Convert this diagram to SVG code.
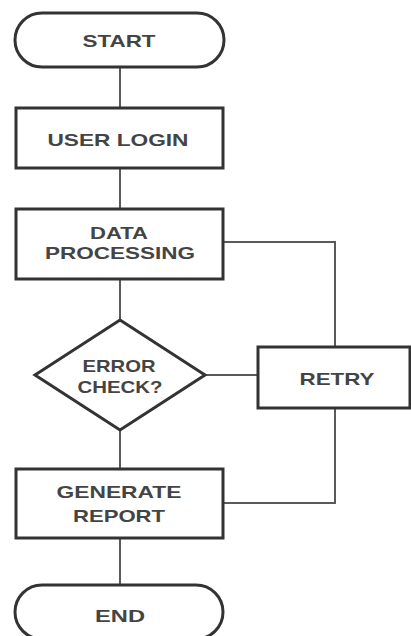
<svg xmlns="http://www.w3.org/2000/svg" width="411" height="636" viewBox="0 0 411 636">
<style>
.shape{fill:#fff;stroke:#333;stroke-width:3}
.conn{fill:none;stroke:#5a5a5a;stroke-width:2}
.lbl{font-family:"Liberation Sans",Arial,sans-serif;font-weight:bold;font-size:17px;fill:#444;text-anchor:middle}
</style>
<rect width="411" height="636" fill="#fff"/>
<g id="connectors">
<path class="conn" d="M120 67V108"/>
<path class="conn" d="M120 168V209"/>
<path class="conn" d="M120 279V320"/>
<path class="conn" d="M223 242H335V347"/>
<path class="conn" d="M205 375H258"/>
<path class="conn" d="M335 409V503H223"/>
<path class="conn" d="M120 430V469"/>
<path class="conn" d="M120 538V585"/>
</g>
<g id="start">
<rect class="shape" x="15" y="13" width="209" height="54" rx="27"/>
<text class="lbl" x="119" y="47" textLength="73" lengthAdjust="spacingAndGlyphs">START</text>
</g>
<g id="user-login">
<rect class="shape" x="16" y="108" width="207" height="60"/>
<text class="lbl" x="118" y="146" textLength="141" lengthAdjust="spacingAndGlyphs">USER LOGIN</text>
</g>
<g id="data-processing">
<rect class="shape" x="16" y="209" width="207" height="70"/>
<text class="lbl" x="119" y="239" textLength="58" lengthAdjust="spacingAndGlyphs">DATA</text>
<text class="lbl" x="120" y="259" textLength="150" lengthAdjust="spacingAndGlyphs">PROCESSING</text>
</g>
<g id="error-check">
<polygon class="shape" points="120,320 205,375 120,430 35,375"/>
<text class="lbl" x="119" y="372" textLength="73" lengthAdjust="spacingAndGlyphs">ERROR</text>
<text class="lbl" x="120" y="393" textLength="85" lengthAdjust="spacingAndGlyphs">CHECK?</text>
</g>
<g id="retry">
<rect class="shape" x="258" y="347" width="152" height="61"/>
<text class="lbl" x="337" y="385" textLength="75" lengthAdjust="spacingAndGlyphs">RETRY</text>
</g>
<g id="generate-report">
<rect class="shape" x="16" y="469" width="207" height="69"/>
<text class="lbl" x="119" y="498" textLength="125" lengthAdjust="spacingAndGlyphs">GENERATE</text>
<text class="lbl" x="119" y="522" textLength="92" lengthAdjust="spacingAndGlyphs">REPORT</text>
</g>
<g id="end">
<rect class="shape" x="15" y="585" width="208" height="54" rx="27"/>
<text class="lbl" x="120" y="622" textLength="50" lengthAdjust="spacingAndGlyphs">END</text>
</g>
</svg>
